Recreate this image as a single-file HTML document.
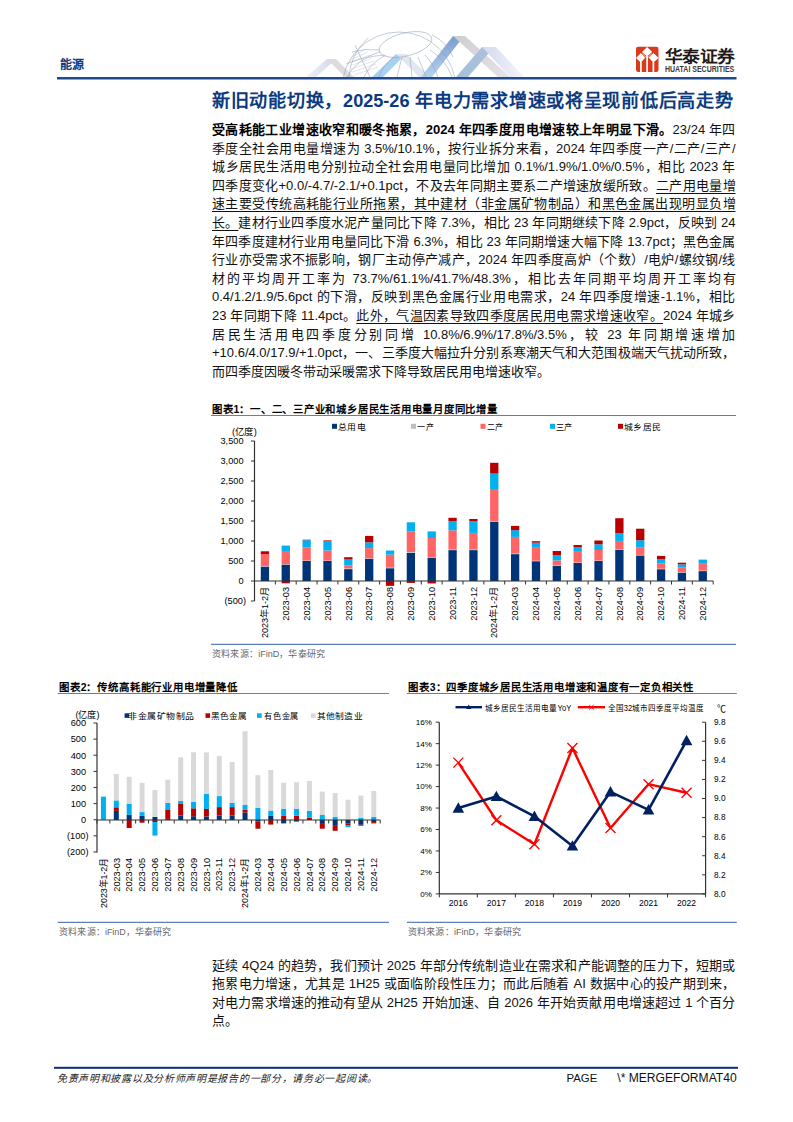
<!DOCTYPE html>
<html lang="zh-CN"><head><meta charset="utf-8"><title>page</title>
<style>
html,body{margin:0;padding:0;background:#fff;}
body{width:793px;height:1122px;position:relative;overflow:hidden;font-family:"Liberation Sans", sans-serif;color:#000;}
.abs{position:absolute;}
.ln{position:absolute;left:212px;width:523.5px;font-size:13px;color:#111;line-height:18.6px;height:18.6px;white-space:nowrap;overflow:visible;}
.j{text-align:justify;text-align-last:justify;white-space:nowrap;}
.ln b{font-weight:bold;color:#000;}
.ln u{text-decoration:underline;text-underline-offset:2.6px;text-decoration-thickness:1px;}
svg text{font-family:"Liberation Sans", sans-serif;}
</style></head><body>
<svg class="abs" style="left:0;top:0" width="793" height="1122" viewBox="0 0 793 1122">
<defs>
<linearGradient id="gA" x1="0" y1="0" x2="1" y2="0"><stop offset="0" stop-color="#e9edf3" stop-opacity="0"/><stop offset="1" stop-color="#c9d3e2"/></linearGradient>
</defs>
<g>
<clipPath id="cl"><rect x="280" y="20" width="260" height="57.2"/></clipPath>
<linearGradient id="gB" x1="0" y1="0" x2="0" y2="1"><stop offset="0" stop-color="#7c9dcf"/><stop offset="1" stop-color="#b5d3ef"/></linearGradient>
<linearGradient id="gG" x1="0" y1="0" x2="1" y2="1"><stop offset="0" stop-color="#cdcdd2"/><stop offset="1" stop-color="#e4e4e8"/></linearGradient>
<linearGradient id="gL" x1="0" y1="0" x2="1" y2="0"><stop offset="0" stop-color="#f0f2f7"/><stop offset="1" stop-color="#cfd6e6"/></linearGradient>
<linearGradient id="gV" x1="0" y1="0" x2="1" y2="0"><stop offset="0" stop-color="#d3d8ef"/><stop offset="1" stop-color="#f4f5fa"/></linearGradient>
<g clip-path="url(#cl)">
<polygon points="306,77 327,59 336,59 316,77" fill="url(#gL)"/>
<polygon points="327,59 336,59 354,77 345,77" fill="#dcdcdf"/>
<polygon points="372,77 396,54 406,54 383,77" fill="#a9d0f0"/>
<polygon points="396,54 406,54 430,77 419,77" fill="#e2e6f2"/>
<polygon points="421,77 453,36 464,36 432,77" fill="url(#gB)"/>
<polygon points="453,36 465,36 510,77 498,77" fill="url(#gG)"/>
<polygon points="456,77 482,47 494,47 468,77" fill="#a9c0dc"/>
<polygon points="482,47 496,47 524,77 510,77" fill="url(#gV)"/>
<g fill="none" stroke="#8d9cb3" stroke-width="0.6" opacity="0.85">
<circle cx="399" cy="89" r="57"/>
<ellipse cx="405.5" cy="44.5" rx="27" ry="11.5" transform="rotate(-14 405.5 44.5)"/>
<path d="M380,52 Q358,58 347,77"/>
<path d="M386,55 Q370,63 364,77"/>
<path d="M394,57 Q382,66 379,77"/>
<path d="M425,55 Q433,63 438,77"/>
<path d="M430,50 Q446,60 452,77"/>
<path d="M368,38 Q350,55 349,77"/>
<path d="M352,52 Q365,48 380,50"/>
<path d="M346,64 Q362,57 384,55"/>
<path d="M410,57 L412,77"/>
<path d="M402,57 L397,77"/>
<path d="M418,57 L426,77"/>
<path d="M432,35 Q447,42 453,57"/>
<path d="M355,45 Q362,60 370,77"/>
</g>
<g stroke="#a7b3c6" stroke-width="0.4" opacity="0.8">
<path d="M350,66 L372,58 M351,69 L374,61 M352,72 L376,64 M354,75 L378,67 M349,63 L370,55 M350,60 L368,52 M352,57 L366,49"/>
</g>
</g>
</g>
<rect x="57" y="77" width="679.5" height="2.5" fill="#1f4a8f"/>
<rect x="54" y="1066.8" width="684" height="2" fill="#0e2f73"/>
<rect x="260.78" y="566.60" width="8.30" height="14.40" fill="#003478"/>
<rect x="260.78" y="566.10" width="8.30" height="0.50" fill="#bfbfbf"/>
<rect x="260.78" y="554.00" width="8.30" height="12.10" fill="#ff6565"/>
<rect x="260.78" y="551.30" width="8.30" height="2.70" fill="#b80000"/>
<rect x="281.62" y="564.60" width="8.30" height="16.40" fill="#003478"/>
<rect x="281.62" y="564.20" width="8.30" height="0.40" fill="#bfbfbf"/>
<rect x="281.62" y="551.80" width="8.30" height="12.40" fill="#ff6565"/>
<rect x="281.62" y="545.60" width="8.30" height="6.20" fill="#00b0f0"/>
<rect x="281.62" y="581.00" width="8.30" height="2.30" fill="#b80000"/>
<rect x="302.48" y="560.90" width="8.30" height="20.10" fill="#003478"/>
<rect x="302.48" y="560.50" width="8.30" height="0.40" fill="#bfbfbf"/>
<rect x="302.48" y="547.40" width="8.30" height="13.10" fill="#ff6565"/>
<rect x="302.48" y="540.20" width="8.30" height="7.20" fill="#00b0f0"/>
<rect x="302.48" y="539.70" width="8.30" height="0.50" fill="#b80000"/>
<rect x="323.33" y="560.90" width="8.30" height="20.10" fill="#003478"/>
<rect x="323.33" y="560.50" width="8.30" height="0.40" fill="#bfbfbf"/>
<rect x="323.33" y="550.50" width="8.30" height="10.00" fill="#ff6565"/>
<rect x="323.33" y="541.20" width="8.30" height="9.30" fill="#00b0f0"/>
<rect x="323.33" y="540.40" width="8.30" height="0.80" fill="#b80000"/>
<rect x="344.18" y="569.10" width="8.30" height="11.90" fill="#003478"/>
<rect x="344.18" y="568.40" width="8.30" height="0.70" fill="#bfbfbf"/>
<rect x="344.18" y="565.40" width="8.30" height="3.00" fill="#ff6565"/>
<rect x="344.18" y="559.50" width="8.30" height="5.90" fill="#00b0f0"/>
<rect x="344.18" y="557.20" width="8.30" height="2.30" fill="#b80000"/>
<rect x="365.03" y="558.70" width="8.30" height="22.30" fill="#003478"/>
<rect x="365.03" y="558.20" width="8.30" height="0.50" fill="#bfbfbf"/>
<rect x="365.03" y="548.10" width="8.30" height="10.10" fill="#ff6565"/>
<rect x="365.03" y="542.30" width="8.30" height="5.80" fill="#00b0f0"/>
<rect x="365.03" y="535.90" width="8.30" height="6.40" fill="#b80000"/>
<rect x="385.88" y="568.20" width="8.30" height="12.80" fill="#003478"/>
<rect x="385.88" y="567.70" width="8.30" height="0.50" fill="#bfbfbf"/>
<rect x="385.88" y="554.60" width="8.30" height="13.10" fill="#ff6565"/>
<rect x="385.88" y="550.50" width="8.30" height="4.10" fill="#00b0f0"/>
<rect x="385.88" y="581.00" width="8.30" height="4.90" fill="#b80000"/>
<rect x="406.73" y="552.80" width="8.30" height="28.20" fill="#003478"/>
<rect x="406.73" y="552.00" width="8.30" height="0.80" fill="#bfbfbf"/>
<rect x="406.73" y="531.60" width="8.30" height="20.40" fill="#ff6565"/>
<rect x="406.73" y="522.30" width="8.30" height="9.30" fill="#00b0f0"/>
<rect x="406.73" y="581.00" width="8.30" height="1.90" fill="#b80000"/>
<rect x="427.58" y="557.70" width="8.30" height="23.30" fill="#003478"/>
<rect x="427.58" y="557.20" width="8.30" height="0.50" fill="#bfbfbf"/>
<rect x="427.58" y="538.00" width="8.30" height="19.20" fill="#ff6565"/>
<rect x="427.58" y="531.40" width="8.30" height="6.60" fill="#00b0f0"/>
<rect x="427.58" y="581.00" width="8.30" height="2.40" fill="#b80000"/>
<rect x="448.43" y="550.10" width="8.30" height="30.90" fill="#003478"/>
<rect x="448.43" y="549.60" width="8.30" height="0.50" fill="#bfbfbf"/>
<rect x="448.43" y="530.30" width="8.30" height="19.30" fill="#ff6565"/>
<rect x="448.43" y="521.00" width="8.30" height="9.30" fill="#00b0f0"/>
<rect x="448.43" y="517.80" width="8.30" height="3.20" fill="#b80000"/>
<rect x="469.28" y="550.10" width="8.30" height="30.90" fill="#003478"/>
<rect x="469.28" y="549.60" width="8.30" height="0.50" fill="#bfbfbf"/>
<rect x="469.28" y="532.90" width="8.30" height="16.70" fill="#ff6565"/>
<rect x="469.28" y="521.00" width="8.30" height="11.90" fill="#00b0f0"/>
<rect x="469.28" y="519.00" width="8.30" height="2.00" fill="#b80000"/>
<rect x="490.12" y="521.90" width="8.30" height="59.10" fill="#003478"/>
<rect x="490.12" y="521.40" width="8.30" height="0.50" fill="#bfbfbf"/>
<rect x="490.12" y="489.00" width="8.30" height="32.40" fill="#ff6565"/>
<rect x="490.12" y="473.60" width="8.30" height="15.40" fill="#00b0f0"/>
<rect x="490.12" y="462.80" width="8.30" height="10.80" fill="#b80000"/>
<rect x="510.98" y="554.10" width="8.30" height="26.90" fill="#003478"/>
<rect x="510.98" y="553.60" width="8.30" height="0.50" fill="#bfbfbf"/>
<rect x="510.98" y="536.90" width="8.30" height="16.70" fill="#ff6565"/>
<rect x="510.98" y="530.20" width="8.30" height="6.70" fill="#00b0f0"/>
<rect x="510.98" y="525.90" width="8.30" height="4.30" fill="#b80000"/>
<rect x="531.83" y="561.20" width="8.30" height="19.80" fill="#003478"/>
<rect x="531.83" y="560.70" width="8.30" height="0.50" fill="#bfbfbf"/>
<rect x="531.83" y="547.10" width="8.30" height="13.60" fill="#ff6565"/>
<rect x="531.83" y="542.70" width="8.30" height="4.40" fill="#00b0f0"/>
<rect x="531.83" y="541.20" width="8.30" height="1.50" fill="#b80000"/>
<rect x="552.68" y="565.90" width="8.30" height="15.10" fill="#003478"/>
<rect x="552.68" y="565.40" width="8.30" height="0.50" fill="#bfbfbf"/>
<rect x="552.68" y="560.40" width="8.30" height="5.00" fill="#ff6565"/>
<rect x="552.68" y="555.10" width="8.30" height="5.30" fill="#00b0f0"/>
<rect x="552.68" y="551.00" width="8.30" height="4.10" fill="#b80000"/>
<rect x="573.52" y="563.00" width="8.30" height="18.00" fill="#003478"/>
<rect x="573.52" y="562.50" width="8.30" height="0.50" fill="#bfbfbf"/>
<rect x="573.52" y="551.80" width="8.30" height="10.70" fill="#ff6565"/>
<rect x="573.52" y="547.10" width="8.30" height="4.70" fill="#00b0f0"/>
<rect x="573.52" y="545.00" width="8.30" height="2.10" fill="#b80000"/>
<rect x="594.38" y="561.00" width="8.30" height="20.00" fill="#003478"/>
<rect x="594.38" y="560.50" width="8.30" height="0.50" fill="#bfbfbf"/>
<rect x="594.38" y="550.00" width="8.30" height="10.50" fill="#ff6565"/>
<rect x="594.38" y="544.30" width="8.30" height="5.70" fill="#00b0f0"/>
<rect x="594.38" y="540.50" width="8.30" height="3.80" fill="#b80000"/>
<rect x="615.23" y="549.90" width="8.30" height="31.10" fill="#003478"/>
<rect x="615.23" y="549.40" width="8.30" height="0.50" fill="#bfbfbf"/>
<rect x="615.23" y="540.90" width="8.30" height="8.50" fill="#ff6565"/>
<rect x="615.23" y="533.20" width="8.30" height="7.70" fill="#00b0f0"/>
<rect x="615.23" y="518.20" width="8.30" height="15.00" fill="#b80000"/>
<rect x="636.08" y="555.40" width="8.30" height="25.60" fill="#003478"/>
<rect x="636.08" y="554.90" width="8.30" height="0.50" fill="#bfbfbf"/>
<rect x="636.08" y="547.60" width="8.30" height="7.30" fill="#ff6565"/>
<rect x="636.08" y="540.20" width="8.30" height="7.40" fill="#00b0f0"/>
<rect x="636.08" y="528.70" width="8.30" height="11.50" fill="#b80000"/>
<rect x="656.93" y="569.20" width="8.30" height="11.80" fill="#003478"/>
<rect x="656.93" y="568.70" width="8.30" height="0.50" fill="#bfbfbf"/>
<rect x="656.93" y="563.60" width="8.30" height="5.10" fill="#ff6565"/>
<rect x="656.93" y="559.10" width="8.30" height="4.50" fill="#00b0f0"/>
<rect x="656.93" y="555.90" width="8.30" height="3.20" fill="#b80000"/>
<rect x="677.77" y="572.60" width="8.30" height="8.40" fill="#003478"/>
<rect x="677.77" y="572.10" width="8.30" height="0.50" fill="#bfbfbf"/>
<rect x="677.77" y="567.20" width="8.30" height="4.90" fill="#ff6565"/>
<rect x="677.77" y="564.40" width="8.30" height="2.80" fill="#00b0f0"/>
<rect x="677.77" y="562.70" width="8.30" height="1.70" fill="#b80000"/>
<rect x="698.63" y="571.10" width="8.30" height="9.90" fill="#003478"/>
<rect x="698.63" y="570.60" width="8.30" height="0.50" fill="#bfbfbf"/>
<rect x="698.63" y="563.10" width="8.30" height="7.50" fill="#ff6565"/>
<rect x="698.63" y="559.60" width="8.30" height="3.50" fill="#00b0f0"/>
<line x1="254.50" y1="441.00" x2="254.50" y2="601.00" stroke="#333333" stroke-width="1.2"/>
<line x1="254.50" y1="581.00" x2="713.20" y2="581.00" stroke="#333333" stroke-width="1.2"/>
<line x1="251.00" y1="441.00" x2="254.50" y2="441.00" stroke="#333333" stroke-width="1"/>
<line x1="251.00" y1="461.00" x2="254.50" y2="461.00" stroke="#333333" stroke-width="1"/>
<line x1="251.00" y1="481.00" x2="254.50" y2="481.00" stroke="#333333" stroke-width="1"/>
<line x1="251.00" y1="501.00" x2="254.50" y2="501.00" stroke="#333333" stroke-width="1"/>
<line x1="251.00" y1="521.00" x2="254.50" y2="521.00" stroke="#333333" stroke-width="1"/>
<line x1="251.00" y1="541.00" x2="254.50" y2="541.00" stroke="#333333" stroke-width="1"/>
<line x1="251.00" y1="561.00" x2="254.50" y2="561.00" stroke="#333333" stroke-width="1"/>
<line x1="251.00" y1="581.00" x2="254.50" y2="581.00" stroke="#333333" stroke-width="1"/>
<line x1="251.00" y1="601.00" x2="254.50" y2="601.00" stroke="#333333" stroke-width="1"/>
<text x="243.50" y="444.30" font-size="9.2" text-anchor="end" fill="#000" >3,500</text>
<text x="243.50" y="464.30" font-size="9.2" text-anchor="end" fill="#000" >3,000</text>
<text x="243.50" y="484.30" font-size="9.2" text-anchor="end" fill="#000" >2,500</text>
<text x="243.50" y="504.30" font-size="9.2" text-anchor="end" fill="#000" >2,000</text>
<text x="243.50" y="524.30" font-size="9.2" text-anchor="end" fill="#000" >1,500</text>
<text x="243.50" y="544.30" font-size="9.2" text-anchor="end" fill="#000" >1,000</text>
<text x="243.50" y="564.30" font-size="9.2" text-anchor="end" fill="#000" >500</text>
<text x="243.50" y="584.30" font-size="9.2" text-anchor="end" fill="#000" >0</text>
<text x="246.00" y="604.30" font-size="9.2" text-anchor="end" fill="#000" >(500)</text>
<line x1="254.50" y1="581.00" x2="254.50" y2="584.50" stroke="#333333" stroke-width="1"/>
<line x1="275.35" y1="581.00" x2="275.35" y2="584.50" stroke="#333333" stroke-width="1"/>
<line x1="296.20" y1="581.00" x2="296.20" y2="584.50" stroke="#333333" stroke-width="1"/>
<line x1="317.05" y1="581.00" x2="317.05" y2="584.50" stroke="#333333" stroke-width="1"/>
<line x1="337.90" y1="581.00" x2="337.90" y2="584.50" stroke="#333333" stroke-width="1"/>
<line x1="358.75" y1="581.00" x2="358.75" y2="584.50" stroke="#333333" stroke-width="1"/>
<line x1="379.60" y1="581.00" x2="379.60" y2="584.50" stroke="#333333" stroke-width="1"/>
<line x1="400.45" y1="581.00" x2="400.45" y2="584.50" stroke="#333333" stroke-width="1"/>
<line x1="421.30" y1="581.00" x2="421.30" y2="584.50" stroke="#333333" stroke-width="1"/>
<line x1="442.15" y1="581.00" x2="442.15" y2="584.50" stroke="#333333" stroke-width="1"/>
<line x1="463.00" y1="581.00" x2="463.00" y2="584.50" stroke="#333333" stroke-width="1"/>
<line x1="483.85" y1="581.00" x2="483.85" y2="584.50" stroke="#333333" stroke-width="1"/>
<line x1="504.70" y1="581.00" x2="504.70" y2="584.50" stroke="#333333" stroke-width="1"/>
<line x1="525.55" y1="581.00" x2="525.55" y2="584.50" stroke="#333333" stroke-width="1"/>
<line x1="546.40" y1="581.00" x2="546.40" y2="584.50" stroke="#333333" stroke-width="1"/>
<line x1="567.25" y1="581.00" x2="567.25" y2="584.50" stroke="#333333" stroke-width="1"/>
<line x1="588.10" y1="581.00" x2="588.10" y2="584.50" stroke="#333333" stroke-width="1"/>
<line x1="608.95" y1="581.00" x2="608.95" y2="584.50" stroke="#333333" stroke-width="1"/>
<line x1="629.80" y1="581.00" x2="629.80" y2="584.50" stroke="#333333" stroke-width="1"/>
<line x1="650.65" y1="581.00" x2="650.65" y2="584.50" stroke="#333333" stroke-width="1"/>
<line x1="671.50" y1="581.00" x2="671.50" y2="584.50" stroke="#333333" stroke-width="1"/>
<line x1="692.35" y1="581.00" x2="692.35" y2="584.50" stroke="#333333" stroke-width="1"/>
<line x1="713.20" y1="581.00" x2="713.20" y2="584.50" stroke="#333333" stroke-width="1"/>
<text transform="translate(268.12,587) rotate(-90)" font-size="9.2" text-anchor="end" textLength="51" lengthAdjust="spacingAndGlyphs">2023年1-2月</text>
<text transform="translate(288.97,587) rotate(-90)" font-size="9.2" text-anchor="end">2023-03</text>
<text transform="translate(309.82,587) rotate(-90)" font-size="9.2" text-anchor="end">2023-04</text>
<text transform="translate(330.68,587) rotate(-90)" font-size="9.2" text-anchor="end">2023-05</text>
<text transform="translate(351.52,587) rotate(-90)" font-size="9.2" text-anchor="end">2023-06</text>
<text transform="translate(372.38,587) rotate(-90)" font-size="9.2" text-anchor="end">2023-07</text>
<text transform="translate(393.22,587) rotate(-90)" font-size="9.2" text-anchor="end">2023-08</text>
<text transform="translate(414.07,587) rotate(-90)" font-size="9.2" text-anchor="end">2023-09</text>
<text transform="translate(434.93,587) rotate(-90)" font-size="9.2" text-anchor="end">2023-10</text>
<text transform="translate(455.78,587) rotate(-90)" font-size="9.2" text-anchor="end">2023-11</text>
<text transform="translate(476.62,587) rotate(-90)" font-size="9.2" text-anchor="end">2023-12</text>
<text transform="translate(497.47,587) rotate(-90)" font-size="9.2" text-anchor="end" textLength="51" lengthAdjust="spacingAndGlyphs">2024年1-2月</text>
<text transform="translate(518.33,587) rotate(-90)" font-size="9.2" text-anchor="end">2024-03</text>
<text transform="translate(539.18,587) rotate(-90)" font-size="9.2" text-anchor="end">2024-04</text>
<text transform="translate(560.03,587) rotate(-90)" font-size="9.2" text-anchor="end">2024-05</text>
<text transform="translate(580.88,587) rotate(-90)" font-size="9.2" text-anchor="end">2024-06</text>
<text transform="translate(601.73,587) rotate(-90)" font-size="9.2" text-anchor="end">2024-07</text>
<text transform="translate(622.58,587) rotate(-90)" font-size="9.2" text-anchor="end">2024-08</text>
<text transform="translate(643.43,587) rotate(-90)" font-size="9.2" text-anchor="end">2024-09</text>
<text transform="translate(664.28,587) rotate(-90)" font-size="9.2" text-anchor="end">2024-10</text>
<text transform="translate(685.12,587) rotate(-90)" font-size="9.2" text-anchor="end">2024-11</text>
<text transform="translate(705.98,587) rotate(-90)" font-size="9.2" text-anchor="end">2024-12</text>
<text x="232.00" y="435.30" font-size="9" text-anchor="start" fill="#000"  textLength="24.80" lengthAdjust="spacingAndGlyphs">(亿度)</text>
<rect x="332.00" y="423.80" width="5.00" height="5.00" fill="#003478"/>
<text x="338.00" y="429.80" font-size="8.5" text-anchor="start" fill="#000"  textLength="28.00" lengthAdjust="spacingAndGlyphs">总用电</text>
<rect x="411.00" y="423.80" width="5.00" height="5.00" fill="#bfbfbf"/>
<text x="417.00" y="429.80" font-size="8.5" text-anchor="start" fill="#000"  textLength="17.10" lengthAdjust="spacingAndGlyphs">一产</text>
<rect x="480.50" y="423.80" width="5.00" height="5.00" fill="#ff6565"/>
<text x="486.70" y="429.80" font-size="8.5" text-anchor="start" fill="#000"  textLength="16.80" lengthAdjust="spacingAndGlyphs">二产</text>
<rect x="550.00" y="423.80" width="5.00" height="5.00" fill="#00b0f0"/>
<text x="555.70" y="429.80" font-size="8.5" text-anchor="start" fill="#000"  textLength="17.30" lengthAdjust="spacingAndGlyphs">三产</text>
<rect x="618.00" y="423.80" width="5.00" height="5.00" fill="#b80000"/>
<text x="624.00" y="429.80" font-size="8.5" text-anchor="start" fill="#000"  textLength="37.50" lengthAdjust="spacingAndGlyphs">城乡居民</text>
<rect x="100.94" y="819.60" width="5.00" height="0.40" fill="#003478"/>
<rect x="100.94" y="796.60" width="5.00" height="23.00" fill="#00b0f0"/>
<rect x="113.81" y="810.90" width="5.00" height="9.10" fill="#003478"/>
<rect x="113.81" y="807.30" width="5.00" height="3.60" fill="#b80000"/>
<rect x="113.81" y="800.40" width="5.00" height="6.90" fill="#00b0f0"/>
<rect x="113.81" y="774.10" width="5.00" height="26.30" fill="#d9d9d9"/>
<rect x="126.68" y="814.90" width="5.00" height="5.10" fill="#003478"/>
<rect x="126.68" y="803.60" width="5.00" height="11.30" fill="#00b0f0"/>
<rect x="126.68" y="776.80" width="5.00" height="26.80" fill="#d9d9d9"/>
<rect x="126.68" y="820.00" width="5.00" height="8.00" fill="#b80000"/>
<rect x="139.55" y="815.80" width="5.00" height="4.20" fill="#003478"/>
<rect x="139.55" y="812.10" width="5.00" height="3.70" fill="#00b0f0"/>
<rect x="139.55" y="782.80" width="5.00" height="29.30" fill="#d9d9d9"/>
<rect x="139.55" y="820.00" width="5.00" height="2.70" fill="#b80000"/>
<rect x="152.43" y="816.90" width="5.00" height="3.10" fill="#003478"/>
<rect x="152.43" y="789.90" width="5.00" height="27.00" fill="#d9d9d9"/>
<rect x="152.43" y="820.00" width="5.00" height="2.00" fill="#b80000"/>
<rect x="152.43" y="822.00" width="5.00" height="13.60" fill="#00b0f0"/>
<rect x="165.30" y="818.90" width="5.00" height="1.10" fill="#003478"/>
<rect x="165.30" y="810.00" width="5.00" height="8.90" fill="#b80000"/>
<rect x="165.30" y="802.80" width="5.00" height="7.20" fill="#00b0f0"/>
<rect x="165.30" y="779.70" width="5.00" height="23.10" fill="#d9d9d9"/>
<rect x="178.17" y="815.50" width="5.00" height="4.50" fill="#003478"/>
<rect x="178.17" y="804.00" width="5.00" height="11.50" fill="#b80000"/>
<rect x="178.17" y="801.00" width="5.00" height="3.00" fill="#00b0f0"/>
<rect x="178.17" y="757.30" width="5.00" height="43.70" fill="#d9d9d9"/>
<rect x="191.05" y="816.20" width="5.00" height="3.80" fill="#003478"/>
<rect x="191.05" y="808.30" width="5.00" height="7.90" fill="#b80000"/>
<rect x="191.05" y="801.90" width="5.00" height="6.40" fill="#00b0f0"/>
<rect x="191.05" y="752.30" width="5.00" height="49.60" fill="#d9d9d9"/>
<rect x="203.92" y="816.50" width="5.00" height="3.50" fill="#003478"/>
<rect x="203.92" y="808.90" width="5.00" height="7.60" fill="#b80000"/>
<rect x="203.92" y="794.00" width="5.00" height="14.90" fill="#00b0f0"/>
<rect x="203.92" y="752.40" width="5.00" height="41.60" fill="#d9d9d9"/>
<rect x="216.79" y="815.50" width="5.00" height="4.50" fill="#003478"/>
<rect x="216.79" y="807.10" width="5.00" height="8.40" fill="#b80000"/>
<rect x="216.79" y="796.10" width="5.00" height="11.00" fill="#00b0f0"/>
<rect x="216.79" y="755.90" width="5.00" height="40.20" fill="#d9d9d9"/>
<rect x="229.66" y="815.50" width="5.00" height="4.50" fill="#003478"/>
<rect x="229.66" y="807.10" width="5.00" height="8.40" fill="#b80000"/>
<rect x="229.66" y="802.90" width="5.00" height="4.20" fill="#00b0f0"/>
<rect x="229.66" y="762.00" width="5.00" height="40.90" fill="#d9d9d9"/>
<rect x="242.54" y="812.60" width="5.00" height="7.40" fill="#003478"/>
<rect x="242.54" y="809.80" width="5.00" height="2.80" fill="#b80000"/>
<rect x="242.54" y="805.00" width="5.00" height="4.80" fill="#00b0f0"/>
<rect x="242.54" y="731.20" width="5.00" height="73.80" fill="#d9d9d9"/>
<rect x="255.41" y="807.80" width="5.00" height="12.20" fill="#00b0f0"/>
<rect x="255.41" y="775.10" width="5.00" height="32.70" fill="#d9d9d9"/>
<rect x="255.41" y="820.00" width="5.00" height="1.60" fill="#003478"/>
<rect x="255.41" y="821.60" width="5.00" height="7.10" fill="#b80000"/>
<rect x="268.28" y="815.90" width="5.00" height="4.10" fill="#003478"/>
<rect x="268.28" y="810.50" width="5.00" height="5.40" fill="#00b0f0"/>
<rect x="268.28" y="770.00" width="5.00" height="40.50" fill="#d9d9d9"/>
<rect x="268.28" y="820.00" width="5.00" height="4.60" fill="#b80000"/>
<rect x="281.15" y="815.90" width="5.00" height="4.10" fill="#b80000"/>
<rect x="281.15" y="808.90" width="5.00" height="7.00" fill="#00b0f0"/>
<rect x="281.15" y="782.70" width="5.00" height="26.20" fill="#d9d9d9"/>
<rect x="281.15" y="820.00" width="5.00" height="3.40" fill="#003478"/>
<rect x="294.03" y="815.60" width="5.00" height="4.40" fill="#b80000"/>
<rect x="294.03" y="808.90" width="5.00" height="6.70" fill="#00b0f0"/>
<rect x="294.03" y="782.20" width="5.00" height="26.70" fill="#d9d9d9"/>
<rect x="294.03" y="820.00" width="5.00" height="1.60" fill="#003478"/>
<rect x="306.90" y="817.50" width="5.00" height="2.50" fill="#b80000"/>
<rect x="306.90" y="810.80" width="5.00" height="6.70" fill="#00b0f0"/>
<rect x="306.90" y="781.00" width="5.00" height="29.80" fill="#d9d9d9"/>
<rect x="319.77" y="815.00" width="5.00" height="5.00" fill="#00b0f0"/>
<rect x="319.77" y="791.60" width="5.00" height="23.40" fill="#d9d9d9"/>
<rect x="319.77" y="820.00" width="5.00" height="3.90" fill="#003478"/>
<rect x="319.77" y="823.90" width="5.00" height="4.80" fill="#b80000"/>
<rect x="332.65" y="816.80" width="5.00" height="3.20" fill="#00b0f0"/>
<rect x="332.65" y="793.00" width="5.00" height="23.80" fill="#d9d9d9"/>
<rect x="332.65" y="820.00" width="5.00" height="5.10" fill="#003478"/>
<rect x="332.65" y="825.10" width="5.00" height="5.70" fill="#b80000"/>
<rect x="345.52" y="799.70" width="5.00" height="20.30" fill="#d9d9d9"/>
<rect x="345.52" y="820.00" width="5.00" height="3.70" fill="#003478"/>
<rect x="345.52" y="823.70" width="5.00" height="1.30" fill="#b80000"/>
<rect x="345.52" y="825.00" width="5.00" height="2.20" fill="#00b0f0"/>
<rect x="358.39" y="817.70" width="5.00" height="2.30" fill="#00b0f0"/>
<rect x="358.39" y="795.60" width="5.00" height="22.10" fill="#d9d9d9"/>
<rect x="358.39" y="820.00" width="5.00" height="4.80" fill="#003478"/>
<rect x="358.39" y="824.80" width="5.00" height="0.90" fill="#b80000"/>
<rect x="371.26" y="816.80" width="5.00" height="3.20" fill="#00b0f0"/>
<rect x="371.26" y="791.00" width="5.00" height="25.80" fill="#d9d9d9"/>
<rect x="371.26" y="820.00" width="5.00" height="2.10" fill="#003478"/>
<rect x="371.26" y="822.10" width="5.00" height="1.30" fill="#b80000"/>
<line x1="97.00" y1="723.00" x2="97.00" y2="852.40" stroke="#333333" stroke-width="1.2"/>
<line x1="97.00" y1="820.00" x2="380.20" y2="820.00" stroke="#333333" stroke-width="1.2"/>
<line x1="93.50" y1="723.00" x2="97.00" y2="723.00" stroke="#333333" stroke-width="1"/>
<line x1="93.50" y1="739.12" x2="97.00" y2="739.12" stroke="#333333" stroke-width="1"/>
<line x1="93.50" y1="755.24" x2="97.00" y2="755.24" stroke="#333333" stroke-width="1"/>
<line x1="93.50" y1="771.36" x2="97.00" y2="771.36" stroke="#333333" stroke-width="1"/>
<line x1="93.50" y1="787.48" x2="97.00" y2="787.48" stroke="#333333" stroke-width="1"/>
<line x1="93.50" y1="803.60" x2="97.00" y2="803.60" stroke="#333333" stroke-width="1"/>
<line x1="93.50" y1="819.72" x2="97.00" y2="819.72" stroke="#333333" stroke-width="1"/>
<line x1="93.50" y1="835.84" x2="97.00" y2="835.84" stroke="#333333" stroke-width="1"/>
<line x1="93.50" y1="851.96" x2="97.00" y2="851.96" stroke="#333333" stroke-width="1"/>
<text x="86.00" y="726.30" font-size="9.2" text-anchor="end" fill="#000" >600</text>
<text x="86.00" y="742.42" font-size="9.2" text-anchor="end" fill="#000" >500</text>
<text x="86.00" y="758.54" font-size="9.2" text-anchor="end" fill="#000" >400</text>
<text x="86.00" y="774.66" font-size="9.2" text-anchor="end" fill="#000" >300</text>
<text x="86.00" y="790.78" font-size="9.2" text-anchor="end" fill="#000" >200</text>
<text x="86.00" y="806.90" font-size="9.2" text-anchor="end" fill="#000" >100</text>
<text x="86.00" y="823.02" font-size="9.2" text-anchor="end" fill="#000" >0</text>
<text x="88.50" y="839.14" font-size="9.2" text-anchor="end" fill="#000" >(100)</text>
<text x="88.50" y="855.26" font-size="9.2" text-anchor="end" fill="#000" >(200)</text>
<line x1="97.00" y1="820.00" x2="97.00" y2="823.50" stroke="#333333" stroke-width="1"/>
<line x1="109.87" y1="820.00" x2="109.87" y2="823.50" stroke="#333333" stroke-width="1"/>
<line x1="122.75" y1="820.00" x2="122.75" y2="823.50" stroke="#333333" stroke-width="1"/>
<line x1="135.62" y1="820.00" x2="135.62" y2="823.50" stroke="#333333" stroke-width="1"/>
<line x1="148.49" y1="820.00" x2="148.49" y2="823.50" stroke="#333333" stroke-width="1"/>
<line x1="161.36" y1="820.00" x2="161.36" y2="823.50" stroke="#333333" stroke-width="1"/>
<line x1="174.24" y1="820.00" x2="174.24" y2="823.50" stroke="#333333" stroke-width="1"/>
<line x1="187.11" y1="820.00" x2="187.11" y2="823.50" stroke="#333333" stroke-width="1"/>
<line x1="199.98" y1="820.00" x2="199.98" y2="823.50" stroke="#333333" stroke-width="1"/>
<line x1="212.85" y1="820.00" x2="212.85" y2="823.50" stroke="#333333" stroke-width="1"/>
<line x1="225.73" y1="820.00" x2="225.73" y2="823.50" stroke="#333333" stroke-width="1"/>
<line x1="238.60" y1="820.00" x2="238.60" y2="823.50" stroke="#333333" stroke-width="1"/>
<line x1="251.47" y1="820.00" x2="251.47" y2="823.50" stroke="#333333" stroke-width="1"/>
<line x1="264.35" y1="820.00" x2="264.35" y2="823.50" stroke="#333333" stroke-width="1"/>
<line x1="277.22" y1="820.00" x2="277.22" y2="823.50" stroke="#333333" stroke-width="1"/>
<line x1="290.09" y1="820.00" x2="290.09" y2="823.50" stroke="#333333" stroke-width="1"/>
<line x1="302.96" y1="820.00" x2="302.96" y2="823.50" stroke="#333333" stroke-width="1"/>
<line x1="315.84" y1="820.00" x2="315.84" y2="823.50" stroke="#333333" stroke-width="1"/>
<line x1="328.71" y1="820.00" x2="328.71" y2="823.50" stroke="#333333" stroke-width="1"/>
<line x1="341.58" y1="820.00" x2="341.58" y2="823.50" stroke="#333333" stroke-width="1"/>
<line x1="354.45" y1="820.00" x2="354.45" y2="823.50" stroke="#333333" stroke-width="1"/>
<line x1="367.33" y1="820.00" x2="367.33" y2="823.50" stroke="#333333" stroke-width="1"/>
<line x1="380.20" y1="820.00" x2="380.20" y2="823.50" stroke="#333333" stroke-width="1"/>
<text transform="translate(106.64,858) rotate(-90)" font-size="9.2" text-anchor="end" textLength="50" lengthAdjust="spacingAndGlyphs">2023年1-2月</text>
<text transform="translate(119.51,858) rotate(-90)" font-size="9.2" text-anchor="end">2023-03</text>
<text transform="translate(132.38,858) rotate(-90)" font-size="9.2" text-anchor="end">2023-04</text>
<text transform="translate(145.25,858) rotate(-90)" font-size="9.2" text-anchor="end">2023-05</text>
<text transform="translate(158.13,858) rotate(-90)" font-size="9.2" text-anchor="end">2023-06</text>
<text transform="translate(171.00,858) rotate(-90)" font-size="9.2" text-anchor="end">2023-07</text>
<text transform="translate(183.87,858) rotate(-90)" font-size="9.2" text-anchor="end">2023-08</text>
<text transform="translate(196.75,858) rotate(-90)" font-size="9.2" text-anchor="end">2023-09</text>
<text transform="translate(209.62,858) rotate(-90)" font-size="9.2" text-anchor="end">2023-10</text>
<text transform="translate(222.49,858) rotate(-90)" font-size="9.2" text-anchor="end">2023-11</text>
<text transform="translate(235.36,858) rotate(-90)" font-size="9.2" text-anchor="end">2023-12</text>
<text transform="translate(248.24,858) rotate(-90)" font-size="9.2" text-anchor="end" textLength="50" lengthAdjust="spacingAndGlyphs">2024年1-2月</text>
<text transform="translate(261.11,858) rotate(-90)" font-size="9.2" text-anchor="end">2024-03</text>
<text transform="translate(273.98,858) rotate(-90)" font-size="9.2" text-anchor="end">2024-04</text>
<text transform="translate(286.85,858) rotate(-90)" font-size="9.2" text-anchor="end">2024-05</text>
<text transform="translate(299.73,858) rotate(-90)" font-size="9.2" text-anchor="end">2024-06</text>
<text transform="translate(312.60,858) rotate(-90)" font-size="9.2" text-anchor="end">2024-07</text>
<text transform="translate(325.47,858) rotate(-90)" font-size="9.2" text-anchor="end">2024-08</text>
<text transform="translate(338.35,858) rotate(-90)" font-size="9.2" text-anchor="end">2024-09</text>
<text transform="translate(351.22,858) rotate(-90)" font-size="9.2" text-anchor="end">2024-10</text>
<text transform="translate(364.09,858) rotate(-90)" font-size="9.2" text-anchor="end">2024-11</text>
<text transform="translate(376.96,858) rotate(-90)" font-size="9.2" text-anchor="end">2024-12</text>
<text x="75.40" y="718.20" font-size="9" text-anchor="start" fill="#000"  textLength="24.20" lengthAdjust="spacingAndGlyphs">(亿度)</text>
<rect x="124.60" y="713.30" width="4.60" height="4.60" fill="#003478"/>
<text x="128.40" y="718.60" font-size="8.5" text-anchor="start" fill="#000"  textLength="66.10" lengthAdjust="spacingAndGlyphs">非金属矿物制品</text>
<rect x="205.50" y="713.30" width="4.60" height="4.60" fill="#b80000"/>
<text x="211.00" y="718.60" font-size="8.5" text-anchor="start" fill="#000"  textLength="36.50" lengthAdjust="spacingAndGlyphs">黑色金属</text>
<rect x="257.00" y="713.30" width="4.60" height="4.60" fill="#00b0f0"/>
<text x="264.40" y="718.60" font-size="8.5" text-anchor="start" fill="#000"  textLength="34.70" lengthAdjust="spacingAndGlyphs">有色金属</text>
<rect x="311.00" y="713.30" width="4.60" height="4.60" fill="#d9d9d9"/>
<text x="316.70" y="718.60" font-size="8.5" text-anchor="start" fill="#000"  textLength="46.30" lengthAdjust="spacingAndGlyphs">其他制造业</text>
<line x1="439.30" y1="722.20" x2="439.30" y2="893.90" stroke="#333333" stroke-width="1.2"/>
<line x1="705.60" y1="722.20" x2="705.60" y2="893.90" stroke="#333333" stroke-width="1.2"/>
<line x1="439.30" y1="893.90" x2="705.60" y2="893.90" stroke="#333333" stroke-width="1.2"/>
<line x1="435.80" y1="722.20" x2="439.30" y2="722.20" stroke="#333333" stroke-width="1"/>
<text x="432.00" y="725.10" font-size="8.1" text-anchor="end" fill="#000" >16%</text>
<line x1="435.80" y1="743.66" x2="439.30" y2="743.66" stroke="#333333" stroke-width="1"/>
<text x="432.00" y="746.56" font-size="8.1" text-anchor="end" fill="#000" >14%</text>
<line x1="435.80" y1="765.12" x2="439.30" y2="765.12" stroke="#333333" stroke-width="1"/>
<text x="432.00" y="768.02" font-size="8.1" text-anchor="end" fill="#000" >12%</text>
<line x1="435.80" y1="786.59" x2="439.30" y2="786.59" stroke="#333333" stroke-width="1"/>
<text x="432.00" y="789.49" font-size="8.1" text-anchor="end" fill="#000" >10%</text>
<line x1="435.80" y1="808.05" x2="439.30" y2="808.05" stroke="#333333" stroke-width="1"/>
<text x="432.00" y="810.95" font-size="8.1" text-anchor="end" fill="#000" >8%</text>
<line x1="435.80" y1="829.51" x2="439.30" y2="829.51" stroke="#333333" stroke-width="1"/>
<text x="432.00" y="832.41" font-size="8.1" text-anchor="end" fill="#000" >6%</text>
<line x1="435.80" y1="850.98" x2="439.30" y2="850.98" stroke="#333333" stroke-width="1"/>
<text x="432.00" y="853.88" font-size="8.1" text-anchor="end" fill="#000" >4%</text>
<line x1="435.80" y1="872.44" x2="439.30" y2="872.44" stroke="#333333" stroke-width="1"/>
<text x="432.00" y="875.34" font-size="8.1" text-anchor="end" fill="#000" >2%</text>
<line x1="435.80" y1="893.90" x2="439.30" y2="893.90" stroke="#333333" stroke-width="1"/>
<text x="432.00" y="896.80" font-size="8.1" text-anchor="end" fill="#000" >0%</text>
<line x1="702.10" y1="722.20" x2="705.60" y2="722.20" stroke="#333333" stroke-width="1"/>
<text x="714.00" y="725.10" font-size="8.3" text-anchor="start" fill="#000" >9.8</text>
<line x1="702.10" y1="741.28" x2="705.60" y2="741.28" stroke="#333333" stroke-width="1"/>
<text x="714.00" y="744.18" font-size="8.3" text-anchor="start" fill="#000" >9.6</text>
<line x1="702.10" y1="760.36" x2="705.60" y2="760.36" stroke="#333333" stroke-width="1"/>
<text x="714.00" y="763.26" font-size="8.3" text-anchor="start" fill="#000" >9.4</text>
<line x1="702.10" y1="779.43" x2="705.60" y2="779.43" stroke="#333333" stroke-width="1"/>
<text x="714.00" y="782.33" font-size="8.3" text-anchor="start" fill="#000" >9.2</text>
<line x1="702.10" y1="798.51" x2="705.60" y2="798.51" stroke="#333333" stroke-width="1"/>
<text x="714.00" y="801.41" font-size="8.3" text-anchor="start" fill="#000" >9.0</text>
<line x1="702.10" y1="817.59" x2="705.60" y2="817.59" stroke="#333333" stroke-width="1"/>
<text x="714.00" y="820.49" font-size="8.3" text-anchor="start" fill="#000" >8.8</text>
<line x1="702.10" y1="836.67" x2="705.60" y2="836.67" stroke="#333333" stroke-width="1"/>
<text x="714.00" y="839.57" font-size="8.3" text-anchor="start" fill="#000" >8.6</text>
<line x1="702.10" y1="855.74" x2="705.60" y2="855.74" stroke="#333333" stroke-width="1"/>
<text x="714.00" y="858.64" font-size="8.3" text-anchor="start" fill="#000" >8.4</text>
<line x1="702.10" y1="874.82" x2="705.60" y2="874.82" stroke="#333333" stroke-width="1"/>
<text x="714.00" y="877.72" font-size="8.3" text-anchor="start" fill="#000" >8.2</text>
<line x1="702.10" y1="893.90" x2="705.60" y2="893.90" stroke="#333333" stroke-width="1"/>
<text x="714.00" y="896.80" font-size="8.3" text-anchor="start" fill="#000" >8.0</text>
<line x1="439.30" y1="893.90" x2="439.30" y2="897.40" stroke="#333333" stroke-width="1"/>
<line x1="477.34" y1="893.90" x2="477.34" y2="897.40" stroke="#333333" stroke-width="1"/>
<line x1="515.39" y1="893.90" x2="515.39" y2="897.40" stroke="#333333" stroke-width="1"/>
<line x1="553.43" y1="893.90" x2="553.43" y2="897.40" stroke="#333333" stroke-width="1"/>
<line x1="591.47" y1="893.90" x2="591.47" y2="897.40" stroke="#333333" stroke-width="1"/>
<line x1="629.51" y1="893.90" x2="629.51" y2="897.40" stroke="#333333" stroke-width="1"/>
<line x1="667.56" y1="893.90" x2="667.56" y2="897.40" stroke="#333333" stroke-width="1"/>
<line x1="705.60" y1="893.90" x2="705.60" y2="897.40" stroke="#333333" stroke-width="1"/>
<text x="458.32" y="906.30" font-size="8.6" text-anchor="middle" fill="#000" >2016</text>
<text x="496.36" y="906.30" font-size="8.6" text-anchor="middle" fill="#000" >2017</text>
<text x="534.41" y="906.30" font-size="8.6" text-anchor="middle" fill="#000" >2018</text>
<text x="572.45" y="906.30" font-size="8.6" text-anchor="middle" fill="#000" >2019</text>
<text x="610.49" y="906.30" font-size="8.6" text-anchor="middle" fill="#000" >2020</text>
<text x="648.54" y="906.30" font-size="8.6" text-anchor="middle" fill="#000" >2021</text>
<text x="686.58" y="906.30" font-size="8.6" text-anchor="middle" fill="#000" >2022</text>
<polyline fill="none" stroke="#ff0000" stroke-width="2.4" stroke-linejoin="round" points="458.32,762.64 496.36,820.26 534.41,844.30 572.45,747.96 610.49,828.08 648.54,784.20 686.58,792.79"/>
<polyline fill="none" stroke="#002060" stroke-width="2.6" stroke-linejoin="round" points="458.32,808.05 496.36,796.46 534.41,816.31 572.45,845.93 610.49,791.85 648.54,809.87 686.58,740.66"/>
<path d="M453.32,757.64L463.32,767.64M463.32,757.64L453.32,767.64" stroke="#ff0000" stroke-width="1.3" fill="none"/>
<path d="M491.36,815.26L501.36,825.26M501.36,815.26L491.36,825.26" stroke="#ff0000" stroke-width="1.3" fill="none"/>
<path d="M529.41,839.30L539.41,849.30M539.41,839.30L529.41,849.30" stroke="#ff0000" stroke-width="1.3" fill="none"/>
<path d="M567.45,742.96L577.45,752.96M577.45,742.96L567.45,752.96" stroke="#ff0000" stroke-width="1.3" fill="none"/>
<path d="M605.49,823.08L615.49,833.08M615.49,823.08L605.49,833.08" stroke="#ff0000" stroke-width="1.3" fill="none"/>
<path d="M643.54,779.20L653.54,789.20M653.54,779.20L643.54,789.20" stroke="#ff0000" stroke-width="1.3" fill="none"/>
<path d="M681.58,787.79L691.58,797.79M691.58,787.79L681.58,797.79" stroke="#ff0000" stroke-width="1.3" fill="none"/>
<polygon points="458.32,802.25 464.12,812.69 452.52,812.69" fill="#002060"/>
<polygon points="496.36,790.66 502.16,801.10 490.56,801.10" fill="#002060"/>
<polygon points="534.41,810.51 540.21,820.95 528.61,820.95" fill="#002060"/>
<polygon points="572.45,840.13 578.25,850.57 566.65,850.57" fill="#002060"/>
<polygon points="610.49,786.05 616.29,796.49 604.69,796.49" fill="#002060"/>
<polygon points="648.54,804.07 654.34,814.51 642.74,814.51" fill="#002060"/>
<polygon points="686.58,734.86 692.38,745.30 680.78,745.30" fill="#002060"/>
<line x1="455.50" y1="707.20" x2="482.00" y2="707.20" stroke="#002060" stroke-width="2.4"/>
<polygon points="468.70,704.40 471.30,709.08 466.10,709.08" fill="#002060"/>
<text x="484.50" y="710.60" font-size="8.5" text-anchor="start" fill="#000"  textLength="86.80" lengthAdjust="spacingAndGlyphs">城乡居民生活用电量YoY</text>
<line x1="577.80" y1="707.20" x2="605.00" y2="707.20" stroke="#ff0000" stroke-width="2.4"/>
<path d="M589.20,705.00L593.60,709.40M593.60,705.00L589.20,709.40" stroke="#ff0000" stroke-width="1" fill="none"/>
<text x="607.70" y="710.60" font-size="8.5" text-anchor="start" fill="#000"  textLength="96.50" lengthAdjust="spacingAndGlyphs">全国32城市四季度平均温度</text>
<text x="717.00" y="712.00" font-size="9" text-anchor="start" fill="#000" >℃</text>
<text x="212" y="412.6" font-size="10.6" font-weight="bold" fill="#000" textLength="285.8" lengthAdjust="spacingAndGlyphs">图表1：一、二、三产业和城乡居民生活用电量月度同比增量</text>
<line x1="211.00" y1="415.50" x2="736.00" y2="415.50" stroke="#5b7fb8" stroke-width="1.2"/>
<text x="59" y="690.6" font-size="10.6" font-weight="bold" fill="#000" textLength="178.9" lengthAdjust="spacingAndGlyphs">图表2：传统高耗能行业用电增量降低</text>
<line x1="57.70" y1="693.50" x2="389.00" y2="693.50" stroke="#5b7fb8" stroke-width="1.2"/>
<text x="408.3" y="690.6" font-size="10.6" font-weight="bold" fill="#000" textLength="285.7" lengthAdjust="spacingAndGlyphs">图表3：四季度城乡居民生活用电增速和温度有一定负相关性</text>
<line x1="407.00" y1="693.50" x2="736.80" y2="693.50" stroke="#5b7fb8" stroke-width="1.2"/>
<line x1="211.00" y1="644.30" x2="736.00" y2="644.30" stroke="#5b7fb8" stroke-width="1.2"/>
<line x1="57.70" y1="922.40" x2="389.00" y2="922.40" stroke="#5b7fb8" stroke-width="1.2"/>
<line x1="407.00" y1="922.40" x2="736.80" y2="922.40" stroke="#5b7fb8" stroke-width="1.2"/>
<text x="212.00" y="656.60" font-size="8.8" text-anchor="start" fill="#666"  textLength="113.30" lengthAdjust="spacingAndGlyphs">资料来源：iFinD，华泰研究</text>
<text x="59.20" y="934.80" font-size="8.8" text-anchor="start" fill="#666"  textLength="112.30" lengthAdjust="spacingAndGlyphs">资料来源：iFinD，华泰研究</text>
<text x="407.70" y="934.80" font-size="8.8" text-anchor="start" fill="#666"  textLength="113.80" lengthAdjust="spacingAndGlyphs">资料来源：iFinD，华泰研究</text>
<!-- logo -->
<rect x="636" y="46.8" width="22.5" height="25.2" rx="2.2" fill="#d93a1c"/>
<polygon points="647.1,46.9 652.1,52.1 647.1,56.6 642,52" fill="#fff"/>
<polygon points="640.9,53.1 645.1,57.7 640.9,62.5 636,58" fill="#fff"/>
<polygon points="653.4,53.1 658.6,58 653.4,62.5 648.8,57.8" fill="#fff"/>
<path d="M642.3,53.6 L646.6,57.8 M651.9,53.6 L647.6,57.8" stroke="#fff" stroke-width="0.7"/>
<rect x="640.05" y="62" width="1.7" height="10.2" fill="#fff"/>
<rect x="646.25" y="56" width="1.7" height="16.2" fill="#fff"/>
<rect x="652.55" y="62" width="1.7" height="10.2" fill="#fff"/>
<text x="664.5" y="62.4" font-size="16.2" font-weight="bold" fill="#231815" textLength="70.3" lengthAdjust="spacingAndGlyphs">华泰证券</text>
<text x="665" y="72" font-size="8.2" font-weight="bold" fill="#3a3a3a" textLength="69.2" lengthAdjust="spacingAndGlyphs">HUATAI SECURITIES</text>
</svg>
<div class="abs" style="left:59.5px;top:58.5px;font-size:12px;line-height:13px;font-weight:bold;color:#0b3a7e;letter-spacing:0px">能源</div>
<div class="abs" style="left:212px;top:89.5px;width:520.8px;font-size:18.1px;line-height:22px;font-weight:bold;color:#0b3a7e;text-align:justify;text-align-last:justify;">新旧动能切换，2025-26 年电力需求增速或将呈现前低后高走势</div>
<div class="ln j" style="top:121.0px"><b>受高耗能工业增速收窄和暖冬拖累，2024 年四季度用电增速较上年明显下滑。</b>23/24 年四</div>
<div class="ln j" style="top:139.6px">季度全社会用电量增速为 3.5%/10.1%，按行业拆分来看，2024 年四季度一产/二产/三产/</div>
<div class="ln j" style="top:158.2px">城乡居民生活用电分别拉动全社会用电量同比增加 0.1%/1.9%/1.0%/0.5%，相比 2023 年</div>
<div class="ln j" style="top:176.8px">四季度变化+0.0/-4.7/-2.1/+0.1pct，不及去年同期主要系二产增速放缓所致。<u>二产用电量增</u></div>
<div class="ln j" style="top:195.4px"><u>速主要受传统高耗能行业所拖累，其中建材（非金属矿物制品）和黑色金属出现明显负增</u></div>
<div class="ln j" style="top:214.0px"><u>长。</u>建材行业四季度水泥产量同比下降 7.3%，相比 23 年同期继续下降 2.9pct，反映到 24</div>
<div class="ln j" style="top:232.6px">年四季度建材行业用电量同比下滑 6.3%，相比 23 年同期增速大幅下降 13.7pct；黑色金属</div>
<div class="ln j" style="top:251.2px">行业亦受需求不振影响，钢厂主动停产减产，2024 年四季度高炉（个数）/电炉/螺纹钢/线</div>
<div class="ln j" style="top:269.8px">材的平均周开工率为 73.7%/61.1%/41.7%/48.3%，相比去年同期平均周开工率均有</div>
<div class="ln j" style="top:288.4px">0.4/1.2/1.9/5.6pct 的下滑，反映到黑色金属行业用电需求，24 年四季度增速-1.1%，相比</div>
<div class="ln j" style="top:307.0px">23 年同期下降 11.4pct。<u>此外，气温因素导致四季度居民用电需求增速收窄。</u>2024 年城乡</div>
<div class="ln j" style="top:325.6px">居民生活用电四季度分别同增 10.8%/6.9%/17.8%/3.5%，较 23 年同期增速增加</div>
<div class="ln j" style="top:344.2px">+10.6/4.0/17.9/+1.0pct，一、三季度大幅拉升分别系寒潮天气和大范围极端天气扰动所致，</div>
<div class="ln" style="top:362.8px">而四季度因暖冬带动采暖需求下降导致居民用电增速收窄。</div>
<div class="ln j" style="top:956.6px">延续 4Q24 的趋势，我们预计 2025 年部分传统制造业在需求和产能调整的压力下，短期或</div>
<div class="ln j" style="top:975.2px">拖累电力增速，尤其是 1H25 或面临阶段性压力；而此后随着 AI 数据中心的投产期到来，</div>
<div class="ln j" style="top:993.8px">对电力需求增速的推动有望从 2H25 开始加速、自 2026 年开始贡献用电增速超过 1 个百分</div>
<div class="ln" style="top:1012.4px">点。</div>
<div class="abs" style="left:57px;top:1072.5px;font-size:10px;line-height:12px;letter-spacing:0.7px;font-style:italic;color:#222;white-space:nowrap">免责声明和披露以及分析师声明是报告的一部分，请务必一起阅读。</div>
<div class="abs" style="left:566.5px;top:1071.8px;font-size:11.4px;line-height:13px;color:#111;white-space:pre">PAGE</div>
<div class="abs" style="left:617.3px;top:1071.8px;font-size:12.1px;line-height:13px;color:#111;white-space:pre">\* MERGEFORMAT40</div>
</body></html>
